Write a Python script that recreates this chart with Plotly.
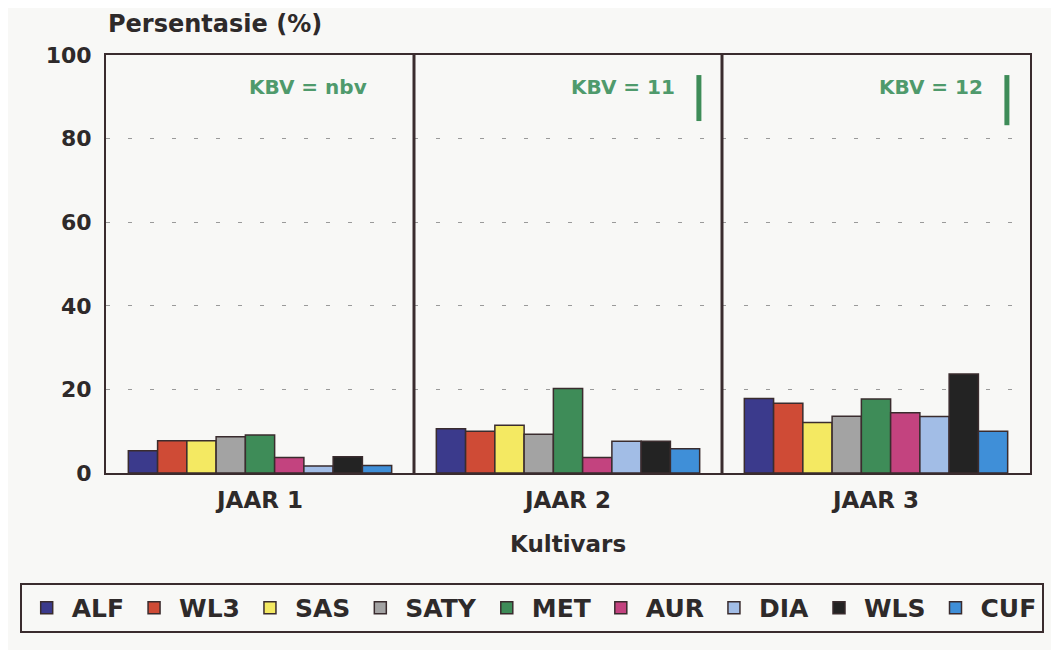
import plotly.graph_objects as go

years = ["JAAR 1", "JAAR 2", "JAAR 3"]
cultivars = ["ALF", "WL3", "SAS", "SATY", "MET", "AUR", "DIA", "WLS", "CUF"]
colors = ["#3b3a8c", "#cf4b36", "#f4e962", "#a3a3a3", "#3e8c58",
          "#c3437f", "#a2bde6", "#232323", "#3f8fd8"]

# percentage per cultivar, for JAAR 1, JAAR 2, JAAR 3
ALF = [5.3, 10.6, 17.8]
WL3 = [7.7, 10.0, 16.7]
SAS = [7.7, 11.4, 12.1]
SATY = [8.7, 9.3, 13.6]
MET = [9.1, 20.2, 17.7]
AUR = [3.7, 3.7, 14.4]
DIA = [1.7, 7.6, 13.5]
WLS = [3.9, 7.6, 23.7]
CUF = [1.8, 5.8, 10.0]
series = [ALF, WL3, SAS, SATY, MET, AUR, DIA, WLS, CUF]

kbv_labels = ["KBV = nbv", "KBV = 11", "KBV = 12"]
kbv_values = [None, 11, 12]

y_ticks = [0, 20, 40, 60, 80, 100]

FONT = "DejaVu Sans"
DARK = "#2e2a2a"
FRAME = "#3a2c2e"
GREEN_TXT = "#4f9a6c"
GREEN_BAR = "#3e8c58"
BG = "#f8f8f6"

fig = go.Figure()
for name, vals, col in zip(cultivars, series, colors):
    fig.add_trace(go.Bar(
        x=years, y=vals, name=name,
        marker=dict(color=col, line=dict(color=FRAME, width=1.5)),
    ))

shapes = []
for xv in [0.5, 1.5]:
    shapes.append(dict(type="line", xref="x", yref="paper", x0=xv, x1=xv,
                       y0=0, y1=1, line=dict(color=FRAME, width=3), layer="above"))

annotations = []
for i, (lab, kv) in enumerate(zip(kbv_labels, kbv_values)):
    annotations.append(dict(x=i + 0.355, y=92.3, xref="x", yref="y", text=lab,
                            showarrow=False, xanchor="right", yanchor="middle",
                            font=dict(family=FONT, size=20, color=GREEN_TXT, weight="bold")))
    if kv is not None:
        xb = i + 0.425
        shapes.append(dict(type="line", xref="x", yref="y", x0=xb, x1=xb,
                           y0=95.2, y1=95.2 - kv,
                           line=dict(color=GREEN_BAR, width=5)))

annotations.append(dict(x=0, y=1.035, xref="paper", yref="paper",
                        text="Persentasie (%)", showarrow=False,
                        xanchor="left", yanchor="bottom",
                        font=dict(family=FONT, size=24, color=DARK, weight="bold")))
annotations.append(dict(x=0.5, y=-0.17, xref="paper", yref="paper",
                        text="Kultivars", showarrow=False,
                        xanchor="center", yanchor="middle",
                        font=dict(family=FONT, size=23, color=DARK, weight="bold")))

# page renders the figure offset by 8px (body margin); sizes compensate
fig.update_layout(
    width=1051, height=642,
    margin=dict(l=91, r=29, t=47, b=177),
    paper_bgcolor=BG, plot_bgcolor=BG,
    barmode="group", bargap=0.145, bargroupgap=0,
    showlegend=True,
    legend=dict(orientation="h", x=-0.0934, xanchor="left", y=-0.263, yanchor="top",
                bordercolor=FRAME, borderwidth=2, bgcolor=BG,
                font=dict(family=FONT, size=25, color=DARK, weight="bold"),
                itemwidth=40, traceorder="normal"),
    shapes=shapes, annotations=annotations,
    font=dict(family=FONT, color=DARK),
)
fig.update_xaxes(
    type="category", range=[-0.5, 2.5],
    showline=True, mirror=True, linecolor=FRAME, linewidth=2,
    showgrid=False, ticks="outside", ticklen=5, tickcolor="rgba(0,0,0,0)",
    tickfont=dict(family=FONT, size=23, color=DARK, weight="bold"),
)
fig.update_yaxes(
    range=[0, 100], tickvals=y_ticks,
    showline=True, mirror=True, linecolor=FRAME, linewidth=2,
    showgrid=True, gridcolor="#9a9a9a", gridwidth=1, griddash="4px,18px",
    zeroline=False, ticks="outside", ticklen=8, tickcolor="rgba(0,0,0,0)",
    tickfont=dict(family=FONT, size=22, color=DARK, weight="bold"),
)

fig.write_html("out.html")
